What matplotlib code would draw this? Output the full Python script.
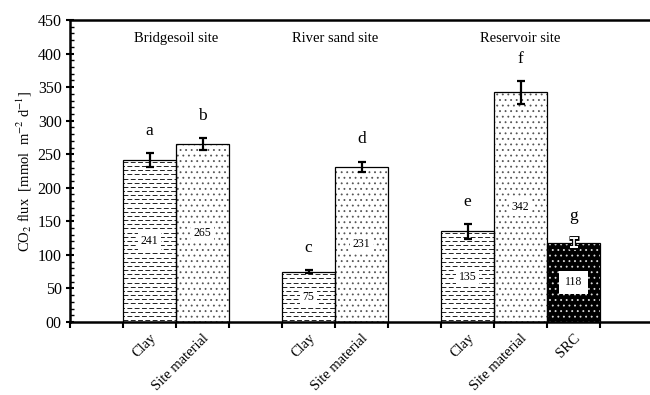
import numpy as np
import matplotlib
matplotlib.use('Agg')
import matplotlib.pyplot as plt
from matplotlib.ticker import MultipleLocator, FixedLocator, NullFormatter

plt.rcParams['font.family'] = ['Liberation Serif', 'DejaVu Serif']
plt.rcParams['mathtext.fontset'] = 'stix'
plt.rcParams['hatch.linewidth'] = 0.6

# slot labels along x (empty slots separate the sites)
slot_labels = ['', 'Clay', 'Site material', '', 'Clay', 'Site material', '',
               'Clay', 'Site material', 'SRC']
bar_slots = [1, 2, 4, 5, 7, 8, 9]
bar_kind = ['clay', 'site', 'clay', 'site', 'clay', 'site', 'src']
flux = [241, 265, 75, 231, 135, 342, 118]
flux_err = [10.5, 8.7, 2, 8, 11, 17, 6.6]
letters = ['a', 'b', 'c', 'd', 'e', 'f', 'g']
sites = ['Bridgesoil site', 'River sand site', 'Reservoir site']
site_x = [1.5, 4.5, 8.0]

fig = plt.figure(figsize=(6.5, 3.95), dpi=100)
ax = fig.add_axes([0.1077, 0.1848, 0.8923, 0.7646])
ax.set_xlim(-0.5, 10.44)
ax.set_ylim(0, 450)

for x, kind, v, e, lt in zip(bar_slots, bar_kind, flux, flux_err, letters):
    if kind == 'site':
        ax.bar(x, v, width=1, color='white', edgecolor='#555555', hatch='...', lw=0, zorder=2)
    elif kind == 'src':
        ax.bar(x, v, width=1, color='black', edgecolor='#dddddd', hatch='...', lw=0, zorder=2)
    else:
        b = ax.bar(x, v, width=1, color='white', lw=0, zorder=2)[0]
        # dashed horizontal fill, alternate rows shifted
        rows = np.arange(3, v, 6.2)
        for i, yy in enumerate(rows):
            ls = (0, (5, 2.5)) if i % 2 == 0 else (3.5, (5, 2.5))
            ln, = ax.plot([x - 0.5, x + 0.5], [yy, yy], color='#222222', lw=0.7,
                          linestyle=ls, zorder=3)
            ln.set_clip_path(b)
    ax.bar(x, v, width=1, fill=False, edgecolor='black', lw=0.9, zorder=4)

    if kind == 'src':
        ax.errorbar(x, v, yerr=e, color='black', elinewidth=3, capsize=3.5, capthick=3.5, zorder=5)
        ax.errorbar(x, v, yerr=e, color='white', elinewidth=1.2, capsize=2.8, capthick=1.4, zorder=6)
        pad = 4
    else:
        ax.errorbar(x, v, yerr=e, color='black', elinewidth=1.6, capsize=3, capthick=1.6, zorder=5)
        pad = 2
    ax.text(x, v / 2, str(v), ha='center', va='center', fontsize=8.5, zorder=7,
            bbox=dict(facecolor='white', edgecolor='none', pad=pad))
    ax.text(x, v + e + 33, lt, ha='center', va='center', fontsize=12.5)

for sx, s in zip(site_x, sites):
    ax.text(sx, 422, s, ha='center', va='center', fontsize=10.5)

# y axis
ax.yaxis.set_minor_locator(MultipleLocator(10))
ylabels = ['00'] + [str(t) for t in range(50, 451, 50)]
ax.set_yticks(range(0, 451, 50), ylabels)
ax.tick_params(axis='y', which='major', direction='inout', length=6, width=1.5,
               labelsize=11.5, pad=3)
ax.tick_params(axis='y', which='minor', direction='in', length=3, width=1)
ax.set_ylabel('CO$_2$ flux  [mmol  m$^{-2}$ d$^{-1}$]', fontsize=10.5, labelpad=3)

# x axis: tick marks between slots, labels in slot centres
ax.xaxis.set_major_locator(FixedLocator(np.arange(-0.5, 10.0, 1)))
ax.xaxis.set_major_formatter(NullFormatter())
ax.set_xticks(range(len(slot_labels)), slot_labels, minor=True, rotation=45,
              ha='right', rotation_mode='anchor', fontsize=10.5)
ax.tick_params(axis='x', which='major', direction='out', length=4, width=1.5)
ax.tick_params(axis='x', which='minor', length=0, pad=7)

for side in ['left', 'bottom', 'top']:
    ax.spines[side].set_linewidth(1.8)
ax.spines['right'].set_visible(False)

fig.savefig('out.png', dpi=100)
